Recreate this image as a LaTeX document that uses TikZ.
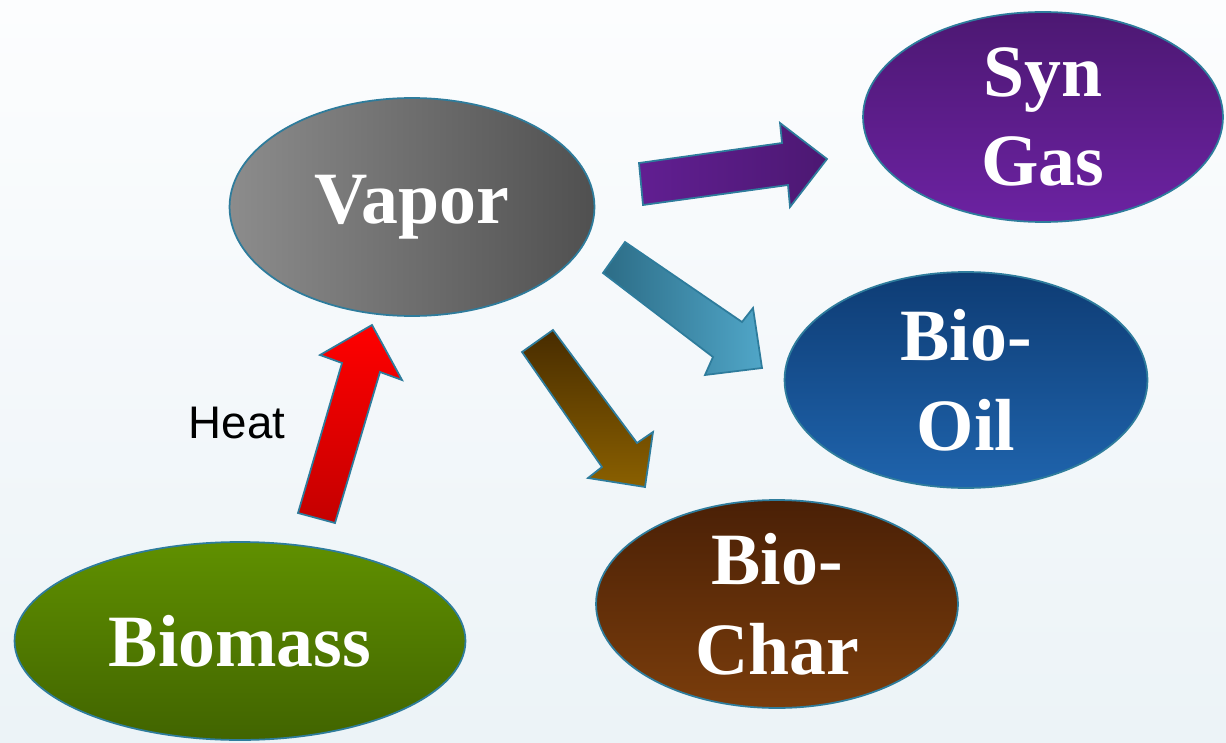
\documentclass[tikz,border=0pt]{standalone}
\usepackage{fontspec}
\setmainfont{Liberation Serif}
\newfontfamily\heatfont{Liberation Sans}
\usetikzlibrary{shapes.geometric,positioning}
\definecolor{edge}{RGB}{46,124,156}
\definecolor{bgtop}{RGB}{252,253,254}
\definecolor{bgbot}{RGB}{236,243,247}
\definecolor{vapL}{RGB}{140,140,140}
\definecolor{vapR}{RGB}{80,80,80}
\definecolor{synT}{RGB}{76,24,114}
\definecolor{synB}{RGB}{108,34,162}
\definecolor{oilT}{RGB}{14,60,116}
\definecolor{oilB}{RGB}{31,100,173}
\definecolor{charT}{RGB}{74,32,6}
\definecolor{charB}{RGB}{122,61,12}
\definecolor{bioT}{RGB}{96,144,0}
\definecolor{bioB}{RGB}{65,100,0}
\definecolor{heatT}{RGB}{255,0,0}
\definecolor{heatB}{RGB}{196,0,0}
\definecolor{tealA}{RGB}{44,108,134}
\definecolor{tealB}{RGB}{80,166,200}
\definecolor{brnT}{RGB}{72,44,0}
\definecolor{brnB}{RGB}{138,96,0}
\tikzset{
  stage/.style={ellipse,draw=edge,line width=1pt,inner sep=0pt,align=center,
    text=white,font=\fontsize{42}{51}\selectfont\bfseries},
  barr/.style={draw=edge,line width=1pt,line join=miter},
  lbl/.style={font=\heatfont\fontsize{26}{30}\selectfont},
}
\begin{document}
\begin{tikzpicture}[x=0.02cm,y=-0.02cm]
\useasboundingbox (0,0) rectangle (1226,743);
\fill[top color=bgtop,bottom color=bgbot] (0,0) rectangle (1226,743);
% stages
\node[stage,minimum width=7.3cm,minimum height=4.36cm,left color=vapL,right color=vapR]
  (vapor) at (412,207) {Vapor};
\node[stage,minimum width=7.2cm,minimum height=4.2cm,top color=synT,bottom color=synB]
  (syngas) at (1043,117) {Syn\\Gas};
\node[stage,minimum width=7.26cm,minimum height=4.32cm,top color=oilT,bottom color=oilB]
  (biooil) at (966,380) {Bio-\\Oil};
\node[stage,minimum width=7.24cm,minimum height=4.16cm,top color=charT,bottom color=charB]
  (biochar) at (777,604) {Bio-\\Char};
\node[stage,minimum width=9.02cm,minimum height=3.96cm,top color=bioT,bottom color=bioB]
  (biomass) at (240,641) {Biomass};
% block arrows
\filldraw[barr,top color=heatT,bottom color=heatB]
  (298,513) -- (342,363) -- (320,355) -- (372,325) -- (402,380) -- (380,372) -- (335,523) -- cycle;
\node[lbl] (heat) at (237,423) {Heat};
\filldraw[barr,left color=synB!90!black,right color=synT]
  (639,163) -- (782,143) -- (780,123) -- (827,159) -- (790,207) -- (788,185) -- (643,205) -- cycle;
\filldraw[barr,left color=tealA,right color=tealB]
  (625,242) -- (742,322) -- (753,308) -- (762,368) -- (705,375) -- (713,357) -- (603,273) -- cycle;
\filldraw[barr,top color=brnT,bottom color=brnB]
  (553,330) -- (637,443) -- (653,432) -- (645,487) -- (588,478) -- (602,467) -- (522,352) -- cycle;
\end{tikzpicture}
\end{document}
